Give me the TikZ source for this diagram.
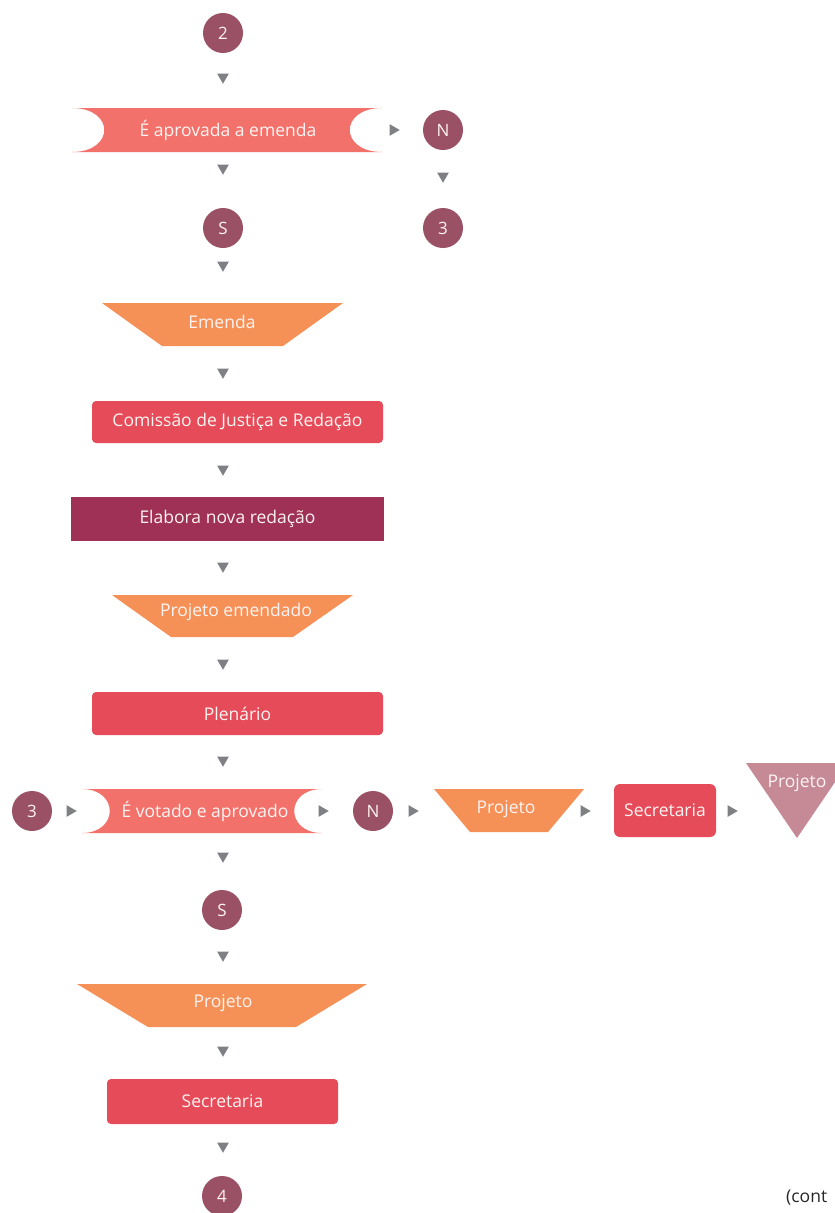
\documentclass[tikz,border=0pt]{standalone}
\usepackage{fontspec}
\setmainfont{Open Sans}
\usetikzlibrary{shapes.geometric}
\definecolor{circC}{HTML}{9B5165}
\definecolor{bannerC}{HTML}{F2716B}
\definecolor{orangeC}{HTML}{F59157}
\definecolor{redC}{HTML}{E54B59}
\definecolor{darkC}{HTML}{9E3155}
\definecolor{pinkC}{HTML}{C68A96}
\definecolor{arrC}{HTML}{7F8084}
\definecolor{txtC}{HTML}{FFF4F2}
\begin{document}
\begin{tikzpicture}[x=1pt,y=-1pt,
  lbl/.style={text=txtC, font=\fontsize{17.5}{20}\selectfont, inner sep=0pt},
  circnode/.style={circle, fill=circC, minimum size=40pt, inner sep=0pt, text=txtC, font=\fontsize{17}{20}\selectfont},
  dn/.style={regular polygon, regular polygon sides=3, shape border rotate=180, fill=arrC, minimum size=13.5pt, inner sep=0pt},
  rt/.style={regular polygon, regular polygon sides=3, shape border rotate=-90, fill=arrC, minimum size=13.5pt, inner sep=0pt},
  box/.style={rectangle, rounded corners=4pt, fill=redC, text=txtC, inner sep=0pt, font=\fontsize{17.5}{20}\selectfont},
  darkbox/.style={rectangle, fill=darkC, text=txtC, inner sep=0pt, font=\fontsize{17.5}{20}\selectfont}
]
\useasboundingbox (0,0) rectangle (835,1213);

% circles
\node[circnode] (c2) at (223,33) {2};
\node[circnode] (n1) at (443,130) {N};
\node[circnode] (c3a) at (443,228) {3};
\node[circnode] (s1) at (223,228) {S};
\node[circnode] (c3b) at (32,811) {3};
\node[circnode] (n2) at (373,811) {N};
\node[circnode] (s2) at (222,910) {S};
\node[circnode] (c4) at (222,1196) {4};

% banner 1
\fill[bannerC] (72,108) -- (382,108) .. controls (339,108) and (339,152) .. (382,152)
  -- (72,152) .. controls (115,152) and (115,108) .. (72,108);
\node[lbl] (b1) at (228,130) {É aprovada a emenda};

% banner 2
\fill[bannerC] (82,789) -- (322,789) .. controls (285,789) and (285,833) .. (322,833)
  -- (82,833) .. controls (119,833) and (119,789) .. (82,789);
\node[lbl] (b2) at (205,811) {É votado e aprovado};

% trapezoids
\fill[orangeC] (102,303) -- (343,303) -- (283,346) -- (162,346) -- cycle;
\node[lbl] (t1) at (222,322) {Emenda};
\fill[orangeC] (112,595) -- (353,595) -- (293,637) -- (171,637) -- cycle;
\node[lbl] (t2) at (236,612) {Projeto emendado};
\fill[orangeC] (77,984) -- (367,984) -- (296,1027) -- (148,1027) -- cycle;
\node[lbl] (t3) at (223,1003) {Projeto};
\fill[orangeC] (434,789) -- (584,789) -- (548,832) -- (470,832) -- cycle;
\node[lbl] (t4) at (506,809) {Projeto};

% triangle
\fill[pinkC] (746,763) -- (848,763) -- (797,838) -- cycle;
\node[lbl] (tr) at (797,783) {Projeto};

% boxes
\node[box, minimum width=291pt, minimum height=42pt] (r1) at (237.5,422) {Comissão de Justiça e Redação};
\node[darkbox, minimum width=313pt, minimum height=44pt] (r2) at (227.5,519) {Elabora nova redação};
\node[box, minimum width=291pt, minimum height=43pt] (r3) at (237.5,713.5) {Plenário};
\node[box, rounded corners=6pt, minimum width=102pt, minimum height=53pt] (r4) at (665,810.5) {Secretaria};
\node[box, minimum width=231pt, minimum height=45pt] (r5) at (222.5,1101.5) {Secretaria};

% arrows down
\foreach \y/\nm in {77/a1,168/a2,265/a3,372/a4,469/a5,566/a6,663/a7,760/a8,856/a9,955/a10,1050/a11,1146/a12}
  \node[dn] (\nm) at (223,\y) {};
\node[dn] (a13) at (443,176) {};
% arrows right
\node[rt] (h1) at (393,130) {};
\foreach \x/\nm in {70/h2,322/h3,412/h4,584/h5,731/h6}
  \node[rt] (\nm) at (\x,811) {};

\node[anchor=west, inner sep=0pt, text=black!85, font=\fontsize{17.5}{20}\selectfont] (cont) at (786,1198) {(cont};
\end{tikzpicture}
\end{document}
